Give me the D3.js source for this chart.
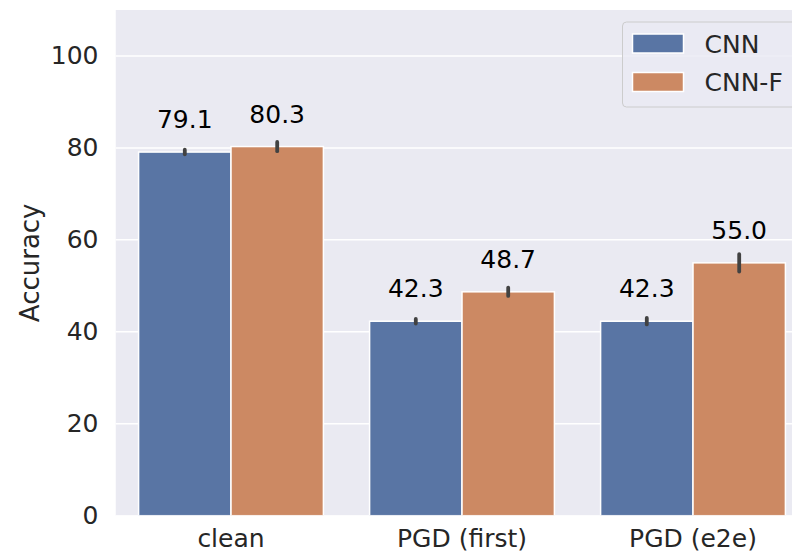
<!DOCTYPE html>
<html>
<head>
<meta charset="utf-8">
<script src="https://cdn.jsdelivr.net/npm/d3@7"></script>
<style>
  html, body { margin: 0; padding: 0; background: #ffffff; }
  svg { display: block; font-family: "DejaVu Sans", sans-serif; }
</style>
</head>
<body>
<svg id="chart" width="792" height="555"></svg>
<script>
// Attack settings on the x axis
const categories = ["clean", "PGD (first)", "PGD (e2e)"];
// Model variants (hue)
const models = ["CNN", "CNN-F"];
// Mean accuracy per setting, one array per model
const cnnValues  = [79.1, 42.3, 42.3];
const cnnfValues = [80.3, 48.7, 55.0];
// Confidence interval bounds (low, high) per setting
const cnnLow   = [78.6, 41.8, 41.6];
const cnnHigh  = [79.6, 42.8, 43.0];
const cnnfLow  = [79.3, 47.8, 53.1];
const cnnfHigh = [81.3, 49.6, 56.9];
// Y axis ticks
const yTicks = [0, 20, 40, 60, 80, 100];
const yLabel = "Accuracy";

const colors = { "CNN": "#5975a4", "CNN-F": "#cc8963" };
const fontSize = 25;

const rows = [];
categories.forEach((c, i) => {
  rows.push({ cat: c, model: "CNN", value: cnnValues[i], lo: cnnLow[i], hi: cnnHigh[i] });
  rows.push({ cat: c, model: "CNN-F", value: cnnfValues[i], lo: cnnfLow[i], hi: cnnfHigh[i] });
});

const svg = d3.select("#chart");
const plot = { left: 115.5, top: 10, bottom: 515.7 };
const bandW = 231;
const plotRight = plot.left + bandW * categories.length;

const x = d3.scaleBand().domain(categories).range([plot.left, plotRight]).padding(0);
const xInner = d3.scaleBand().domain(models).range([bandW * 0.1, bandW * 0.9]).padding(0);
const y = d3.scaleLinear().domain([0, 110]).range([plot.bottom, plot.top]);

// Clip everything to the plot panel
svg.append("defs").append("clipPath").attr("id", "panel")
  .append("rect").attr("x", plot.left).attr("y", plot.top)
  .attr("width", plotRight - plot.left).attr("height", plot.bottom - plot.top);

const panel = svg.append("g").attr("clip-path", "url(#panel)");

panel.append("rect")
  .attr("x", plot.left).attr("y", plot.top)
  .attr("width", plotRight - plot.left).attr("height", plot.bottom - plot.top)
  .attr("fill", "#eaeaf2");

// Horizontal grid
panel.selectAll("line.grid").data(yTicks).join("line")
  .attr("class", "grid")
  .attr("x1", plot.left).attr("x2", plotRight)
  .attr("y1", d => y(d)).attr("y2", d => y(d))
  .attr("stroke", "#ffffff").attr("stroke-width", 1.5);

// Bars
panel.selectAll("rect.bar").data(rows).join("rect")
  .attr("class", "bar")
  .attr("x", d => x(d.cat) + xInner(d.model))
  .attr("y", d => y(d.value))
  .attr("width", xInner.bandwidth())
  .attr("height", d => y(0) - y(d.value))
  .attr("fill", d => colors[d.model])
  .attr("stroke", "#ffffff").attr("stroke-width", 1.5);

// Error bars
panel.selectAll("line.err").data(rows).join("line")
  .attr("class", "err")
  .attr("x1", d => x(d.cat) + xInner(d.model) + xInner.bandwidth() / 2)
  .attr("x2", d => x(d.cat) + xInner(d.model) + xInner.bandwidth() / 2)
  .attr("y1", d => y(d.lo)).attr("y2", d => y(d.hi))
  .attr("stroke", "#424242").attr("stroke-width", 3.8).attr("stroke-linecap", "round");

// Value labels
panel.selectAll("text.val").data(rows).join("text")
  .attr("class", "val")
  .attr("x", d => x(d.cat) + xInner(d.model) + xInner.bandwidth() / 2)
  .attr("y", d => y(d.value) - 24)
  .attr("text-anchor", "middle")
  .attr("font-size", fontSize)
  .attr("fill", "#000000")
  .text(d => d.value.toFixed(1));

// Y axis
const yAxis = svg.append("g").attr("transform", `translate(${plot.left},0)`)
  .call(d3.axisLeft(y).tickValues(yTicks).tickSize(0).tickPadding(17));
yAxis.select(".domain").remove();
yAxis.selectAll("text").attr("font-size", fontSize).attr("fill", "#262626")
  .attr("font-family", "DejaVu Sans, sans-serif");

// X axis
const xAxis = svg.append("g").attr("transform", `translate(0,${plot.bottom})`)
  .call(d3.axisBottom(x).tickSize(0).tickPadding(14));
xAxis.select(".domain").remove();
xAxis.selectAll("text").attr("font-size", fontSize).attr("fill", "#262626")
  .attr("font-family", "DejaVu Sans, sans-serif");

// Y label
svg.append("text")
  .attr("transform", `translate(39,${(plot.top + plot.bottom) / 2}) rotate(-90)`)
  .attr("text-anchor", "middle")
  .attr("font-size", 26).attr("fill", "#262626")
  .text(yLabel);

// Legend
const legend = svg.append("g").attr("transform", "translate(622.5,22)");
legend.append("rect")
  .attr("width", 200).attr("height", 85).attr("rx", 4)
  .attr("fill", "#eaeaf2").attr("fill-opacity", 0.8)
  .attr("stroke", "#cccccc").attr("stroke-width", 1);
models.forEach((m, i) => {
  const g = legend.append("g").attr("transform", `translate(10,${12 + i * 38.5})`);
  g.append("rect").attr("width", 51).attr("height", 19)
    .attr("fill", colors[m]).attr("stroke", "#ffffff").attr("stroke-width", 1.5);
  g.append("text").attr("x", 72).attr("y", 18.5)
    .attr("font-size", fontSize).attr("fill", "#262626").text(m);
});
</script>
</body>
</html>
